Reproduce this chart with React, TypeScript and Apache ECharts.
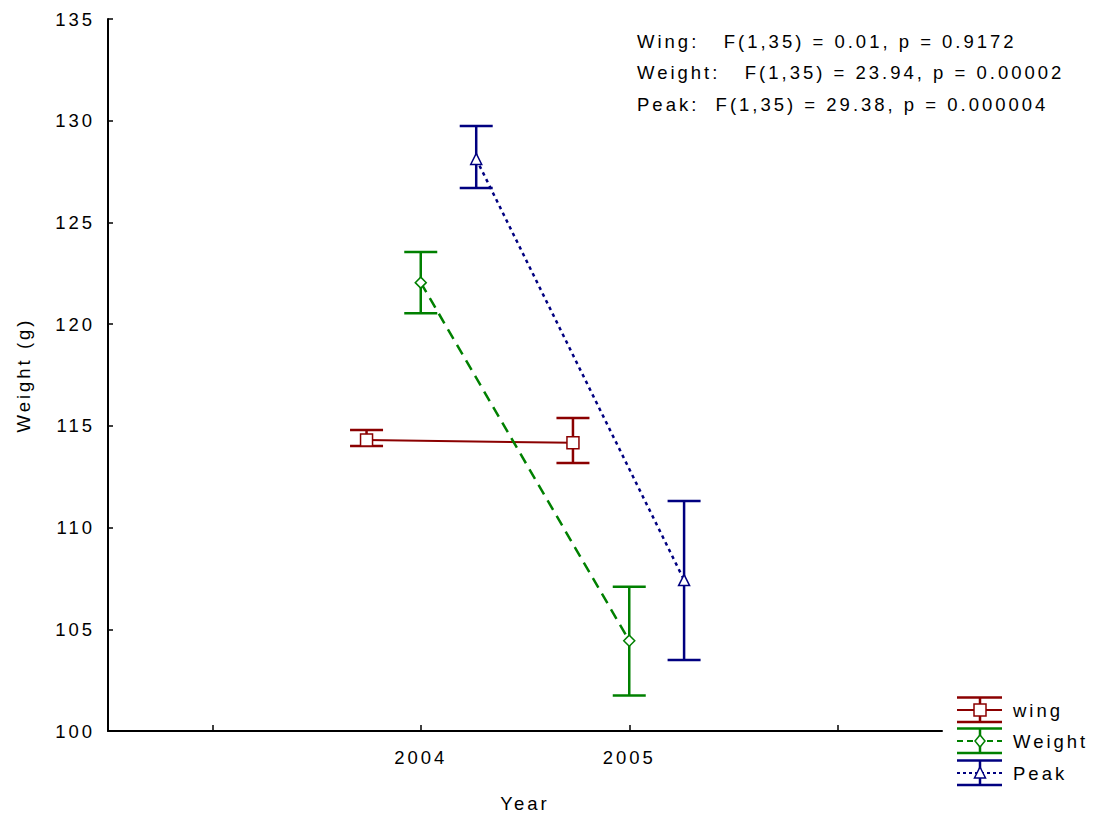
import React, { useEffect, useRef } from "react";
import * as echarts from "echarts";

const years = [2004, 2005];
const wingX = [2003.74, 2004.73];
const weightX = [2004, 2005];
const peakX = [2004.266, 2005.263];

const wingMean = [114.3, 114.17];
const wingLow = [114.01, 113.17];
const wingHigh = [114.8, 115.39];

const weightMean = [122.04, 104.44];
const weightLow = [120.53, 101.75];
const weightHigh = [123.55, 107.09];

const peakMean = [128.12, 107.42];
const peakLow = [126.69, 103.49];
const peakHigh = [129.74, 111.31];

const xTicks = [2003, 2004, 2005, 2006];
const yTicks = [100, 105, 110, 115, 120, 125, 130, 135];

const statLines = [
  "Wing:   F(1,35) = 0.01, p = 0.9172",
  "Weight:   F(1,35) = 23.94, p = 0.00002",
  "Peak:  F(1,35) = 29.38, p = 0.000004",
];

const seriesNames = ["wing", "Weight", "Peak"];
const RED = "#8b0000";
const GREEN = "#008000";
const BLUE = "#000080";
const FONT = "'Liberation Sans', Arial, sans-serif";
const FS = 18.5;

function errSeries(name: string, xs: number[], lo: number[], hi: number[], color: string) {
  return {
    type: "custom",
    name: name + "_err",
    z: 2,
    data: xs.map((x, i) => [x, lo[i], hi[i]]),
    encode: { x: 0, y: [1, 2] },
    renderItem: (params: any, api: any) => {
      const x = api.value(0);
      const p1 = api.coord([x, api.value(1)]);
      const p2 = api.coord([x, api.value(2)]);
      const hw = 16.5;
      const st = { stroke: color, lineWidth: 2.5 };
      return {
        type: "group",
        children: [
          { type: "line", shape: { x1: p1[0], y1: p1[1], x2: p2[0], y2: p2[1] }, style: st },
          { type: "line", shape: { x1: p1[0] - hw, y1: p1[1], x2: p1[0] + hw, y2: p1[1] }, style: st },
          { type: "line", shape: { x1: p2[0] - hw, y1: p2[1], x2: p2[0] + hw, y2: p2[1] }, style: st },
        ],
      };
    },
  };
}

function lineSeries(name: string, xs: number[], ys: number[], color: string, dash: any, symbol: string, size: number, width: number) {
  return {
    type: "line",
    name,
    z: 5,
    data: xs.map((x, i) => [x, ys[i]]),
    symbol,
    symbolSize: size,
    showSymbol: true,
    itemStyle: { color: "#ffffff", borderColor: color, borderWidth: 1.5 },
    lineStyle: { color, width, type: dash },
  };
}

function legendItem(y: number, color: string, dash: any, symbol: string, label: string) {
  const x0 = 957, x1 = 1002, cx = 980;
  const st = { stroke: color, lineWidth: 2.5 };
  const children: any[] = [
    { type: "line", shape: { x1: x0, y1: y - 12.5, x2: x1, y2: y - 12.5 }, style: st },
    { type: "line", shape: { x1: x0, y1: y + 12, x2: x1, y2: y + 12 }, style: st },
    { type: "line", shape: { x1: cx, y1: y - 12.5, x2: cx, y2: y + 12 }, style: st },
    { type: "line", shape: { x1: x0, y1: y, x2: x1, y2: y }, style: { stroke: color, lineWidth: 2, lineDash: dash } },
  ];
  if (symbol === "rect") {
    children.push({ type: "rect", shape: { x: cx - 6, y: y - 6, width: 12, height: 12 }, style: { fill: "#fff", stroke: color, lineWidth: 1.5 } });
  } else if (symbol === "diamond") {
    children.push({ type: "polygon", shape: { points: [[cx, y - 6], [cx + 5, y], [cx, y + 6], [cx - 5, y]] }, style: { fill: "#fff", stroke: color, lineWidth: 1.5 } });
  } else {
    children.push({ type: "polygon", shape: { points: [[cx, y - 6], [cx + 5.5, y + 5], [cx - 5.5, y + 5]] }, style: { fill: "#fff", stroke: color, lineWidth: 1.5 } });
  }
  children.push({ type: "text", style: { x: 1013, y, text: label, font: `${FS}px ${FONT}`, fill: "#000", textVerticalAlign: "middle" } });
  return { type: "group", children };
}

export default function App() {
  const ref = useRef<HTMLDivElement>(null);
  useEffect(() => {
    if (!ref.current) return;
    const chart = echarts.init(ref.current, null, { renderer: "svg" });
    chart.setOption({
      animation: false,
      backgroundColor: "#ffffff",
      grid: { left: 108, right: 158, top: 19, bottom: 82, containLabel: false, outerBoundsMode: "none" },
      xAxis: {
        type: "value",
        min: 2002.5,
        max: 2006.5,
        name: "Year",
        nameLocation: "middle",
        nameGap: 63,
        nameTextStyle: { fontSize: FS, fontFamily: FONT, color: "#000" },
        axisLine: { show: true, lineStyle: { color: "#000", width: 2 } },
        axisTick: { show: true, inside: true, length: 6, lineStyle: { color: "#000", width: 1.5 }, customValues: xTicks },
        axisLabel: { customValues: years, fontSize: FS, fontFamily: FONT, color: "#000", margin: 17, formatter: (v: number) => String(v) },
        splitLine: { show: false },
      },
      yAxis: {
        type: "value",
        min: 100,
        max: 135,
        interval: 5,
        name: "Weight (g)",
        nameLocation: "middle",
        nameGap: 75,
        nameTextStyle: { fontSize: FS, fontFamily: FONT, color: "#000" },
        axisLine: { show: true, lineStyle: { color: "#000", width: 2 } },
        axisTick: { show: true, inside: true, length: 5, lineStyle: { color: "#000", width: 1.5 }, customValues: yTicks },
        axisLabel: { fontSize: FS, fontFamily: FONT, color: "#000", margin: 13, customValues: yTicks },
        splitLine: { show: false },
      },
      series: [
        errSeries(seriesNames[0], wingX, wingLow, wingHigh, RED),
        errSeries(seriesNames[1], weightX, weightLow, weightHigh, GREEN),
        errSeries(seriesNames[2], peakX, peakLow, peakHigh, BLUE),
        lineSeries(seriesNames[0], wingX, wingMean, RED, "solid", "rect", 12, 2),
        lineSeries(seriesNames[1], weightX, weightMean, GREEN, [11, 7], "diamond", 11, 2.5),
        lineSeries(seriesNames[2], peakX, peakMean, BLUE, [3.5, 4], "triangle", 11, 2.5),
      ],
      graphic: [
        ...statLines.map((t, i) => ({
          type: "text",
          style: { x: 637, y: 41 + i * 31.5, text: t, font: `${FS}px ${FONT}`, fill: "#000", textVerticalAlign: "middle" },
        })),
        legendItem(710, RED, null, "rect", seriesNames[0]),
        legendItem(741, GREEN, [6, 4], "diamond", seriesNames[1]),
        legendItem(773, BLUE, [3, 3], "triangle", seriesNames[2]),
      ],
    });
    return () => chart.dispose();
  }, []);
  return (
    <>
      <style>{`#chartbox svg text { letter-spacing: 3px; }`}</style>
      <div id="chartbox" ref={ref} style={{ width: 1100, height: 813, position: "absolute", left: 0, top: 0 }} />
    </>
  );
}
